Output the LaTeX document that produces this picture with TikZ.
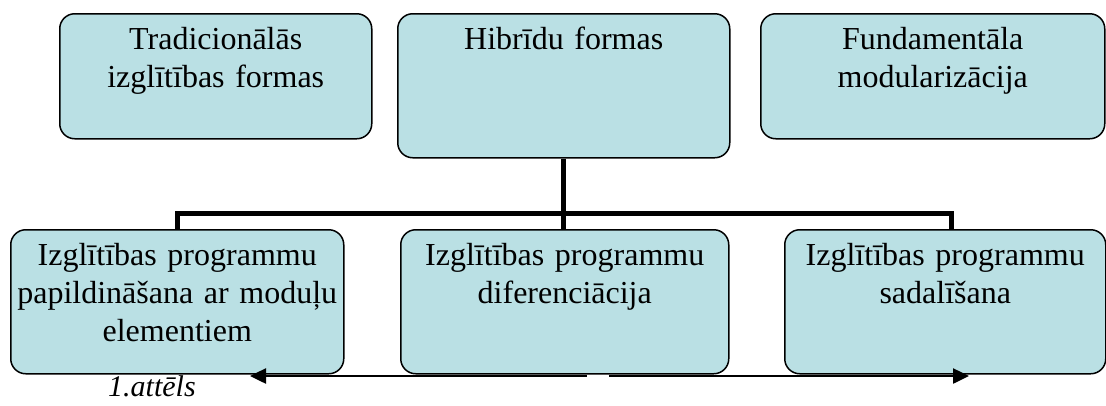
\documentclass[tikz,border=0pt]{standalone}
\usepackage{fontspec}
\setmainfont{Liberation Serif}
\usetikzlibrary{arrows.meta,calc}
\definecolor{boxblue}{RGB}{186,224,228}
\tikzset{
  box/.style={draw, line width=1.5pt, rounded corners=15pt, fill=boxblue,
    align=center, inner xsep=0pt, inner ysep=0pt, text height=36pt,
    anchor=north west, font=\fontsize{32}{38}\selectfont},
  tree/.style={line width=5pt},
  flow/.style={line width=2.5pt, -{Triangle[length=16pt,width=15pt]}},
  caption/.style={anchor=base west, inner sep=0pt, font=\fontsize{30}{36}\selectfont\itshape}
}
\begin{document}
\begin{tikzpicture}[x=1pt,y=-1pt]
        \useasboundingbox (0,0) rectangle (1106,405);

        \node[box, text width=312pt, text depth=89pt] (trad) at (59,13) {Tradicionālās\\izglītības formas};
        \node[box, text width=332pt, text depth=108pt] (hyb) at (397,13) {Hibrīdu formas};
        \node[box, text width=344pt, text depth=89pt] (fund) at (760,13) {Fundamentāla\\modularizācija};

        \node[box, text width=333pt, text depth=108pt] (papild) at (10,229) {Izglītības programmu\\papildināšana ar moduļu\\elementiem};
        \node[box, text width=328pt, text depth=108pt] (dif) at (400,229) {Izglītības programmu\\diferenciācija};
        \node[box, text width=321pt, text depth=108pt] (sadal) at (784,229) {Izglītības programmu\\sadalīšana};

        \draw[tree] (hyb.south) -- (hyb.south |- dif.north);
        \draw[tree] (papild.north) -- ++(0,-16) -| ([xshift=6pt]sadal.north);

        \coordinate (gapL) at ($(dif.south)+(22,1.5)$);
        \coordinate (gapR) at ($(dif.south)+(44,1.5)$);
        \draw[flow] (gapL) -- (gapL -| 250,0);
        \draw[flow] (gapR) -- (gapR -| 969,0);

        \node[caption] (cap) at (108,396) {1.attēls};
    \end{tikzpicture}
\end{document}
